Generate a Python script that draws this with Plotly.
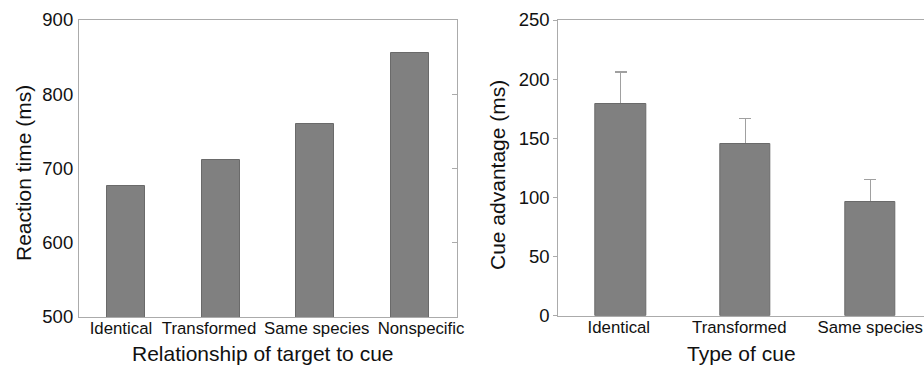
import plotly.graph_objects as go

# Left panel data
rel_categories = ["Identical", "Transformed", "Same species", "Nonspecific"]
reaction_time = [676, 711, 760, 856]

# Right panel data
cue_categories = ["Identical", "Transformed", "Same species"]
cue_advantage = [179, 145, 96]
cue_error = [27, 22, 19]

BAR = "#808080"
BAR_LINE = "#6a6a6a"
AXIS = "#ababab"
FONT = "Liberation Sans, Arial, sans-serif"
TXT = "#111111"

W, H = 924, 366
OFF = 0  # body margin removed via post_script


def px(wx):
    return (wx - OFF) / W


def py(wy):
    return 1 - (wy - OFF) / H


# small label shifts (category units) so long labels do not collide
left_label_shift = [-0.056, -0.124, 0.015, 0.119]
right_label_shift = [-0.015, -0.05, 0.0]

fig = go.Figure()

fig.add_trace(go.Bar(
    x=list(range(len(rel_categories))), y=reaction_time, width=0.40,
    marker=dict(color=BAR, line=dict(color=BAR_LINE, width=1)),
    xaxis="x", yaxis="y", showlegend=False,
))

# error bars carried by a transparent bar, then covered by the visible bar
fig.add_trace(go.Bar(
    x=list(range(len(cue_categories))), y=cue_advantage, width=0.405,
    marker=dict(color="rgba(0,0,0,0)", line=dict(width=0)),
    error_y=dict(type="data", symmetric=True, array=cue_error,
                 color="#a0a0a0", thickness=1.3, width=6),
    xaxis="x2", yaxis="y2", showlegend=False, hoverinfo="skip",
))
fig.add_trace(go.Bar(
    x=list(range(len(cue_categories))), y=cue_advantage, width=0.405,
    marker=dict(color=BAR, line=dict(color=BAR_LINE, width=1)),
    xaxis="x2", yaxis="y2", showlegend=False,
))

# invisible trace to activate the right-side tick axis of left panel
fig.add_trace(go.Scatter(x=[0], y=[600], xaxis="x", yaxis="y3",
                         mode="markers", marker=dict(opacity=0),
                         showlegend=False, hoverinfo="skip"))

lx0, lx1 = px(79), px(457)
rx0, rx1 = px(558.3), 1.0
ly0, ly1 = py(317), py(20)
ry0, ry1 = py(315.7), py(20)
right_span = (W + OFF - 558.3) / 124.8

common_x = dict(showline=True, linecolor=AXIS, linewidth=1.2, mirror=True,
                ticks="", showgrid=False, zeroline=False, tickangle=0,
                automargin=False, ticklabelstandoff=-4,
                tickfont=dict(family=FONT, size=16.8, color=TXT))

fig.update_layout(
    width=W, height=H,
    margin=dict(l=0, r=0, t=0, b=0, pad=0),
    paper_bgcolor="white", plot_bgcolor="white",
    font=dict(family=FONT, color=TXT),
    bargap=0, barmode="overlay",
    xaxis=dict(domain=[lx0, lx1], range=[-0.5, 3.5], anchor="y",
               tickmode="array",
               tickvals=[i + s for i, s in enumerate(left_label_shift)],
               ticktext=rel_categories, **common_x),
    yaxis=dict(domain=[ly0, ly1], range=[500, 900], anchor="x",
               tickvals=[500, 600, 700, 800, 900], showline=True,
               linecolor=AXIS, linewidth=1.2, mirror=True, ticks="",
               showgrid=False, zeroline=False, ticklabelstandoff=1,
               automargin=False,
               tickfont=dict(family=FONT, size=18.5, color=TXT)),
    yaxis3=dict(domain=[ly0, ly1], range=[500, 900], anchor="x",
                overlaying="y", side="right", tickvals=[600, 700, 800],
                ticks="inside", ticklen=5, tickcolor=AXIS, tickwidth=1.2,
                showticklabels=False, showgrid=False, zeroline=False,
                showline=False, automargin=False),
    xaxis2=dict(domain=[rx0, rx1], range=[-0.5, -0.5 + right_span],
                anchor="y2", tickmode="array",
                tickvals=[i + s for i, s in enumerate(right_label_shift)],
                ticktext=cue_categories, **common_x),
    yaxis2=dict(domain=[ry0, ry1], range=[0, 250], anchor="x2",
                tickvals=[0, 50, 100, 150, 200, 250], showline=True,
                linecolor=AXIS, linewidth=1.2, mirror=False, ticks="outside",
                ticklen=4, tickcolor=AXIS, tickwidth=1.2,
                showgrid=False, zeroline=False, ticklabelstandoff=0,
                automargin=False,
                tickfont=dict(family=FONT, size=18.5, color=TXT)),
)

fig.add_annotation(text="Relationship of target to cue", x=px(262.5),
                   y=py(353), xref="paper", yref="paper", showarrow=False,
                   font=dict(family=FONT, size=21, color=TXT),
                   xanchor="center", yanchor="middle")
fig.add_annotation(text="Type of cue", x=px(741), y=py(353),
                   xref="paper", yref="paper", showarrow=False,
                   font=dict(family=FONT, size=21, color=TXT),
                   xanchor="center", yanchor="middle")
fig.add_annotation(text="Reaction time (ms)", x=px(23), y=py(173),
                   xref="paper", yref="paper", showarrow=False, textangle=-90,
                   font=dict(family=FONT, size=21, color=TXT),
                   xanchor="center", yanchor="middle")
fig.add_annotation(text="Cue advantage (ms)", x=px(497), y=py(175),
                   xref="paper", yref="paper", showarrow=False, textangle=-90,
                   font=dict(family=FONT, size=21, color=TXT),
                   xanchor="center", yanchor="middle")

fig.write_html(
    "out.html",
    config={"displayModeBar": False},
    post_script="document.body.style.margin='0';document.body.style.overflow='hidden';",
)
